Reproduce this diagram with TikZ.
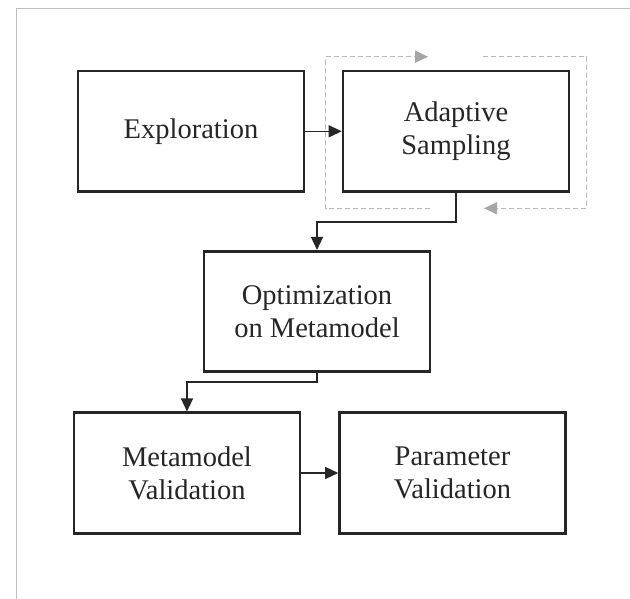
\documentclass[tikz,border=0pt]{standalone}
\usepackage{fontspec}
\setmainfont{Liberation Serif}
\usetikzlibrary{arrows.meta}
\begin{document}
\begin{tikzpicture}[x=1pt,y=-1pt,
  box/.style={draw=black!85, line width=2.6pt, minimum width=226pt, minimum height=120.5pt,
    inner sep=0pt, align=center, font=\fontsize{28.5}{33}\selectfont, text=black!85},
  conn/.style={draw=black!85, line width=1.4pt, -{Triangle[length=13pt,width=12pt]}},
  loopline/.style={draw=black!28, line width=1.3pt, dash pattern=on 5pt off 3pt,
    -{Triangle[length=13pt,width=12pt,color=black!35]}},
  frame/.style={draw=black!25, line width=1.2pt}
]
\useasboundingbox (0,0) rectangle (630,599);
\draw[frame] (16.5,599) -- (16.5,8.5) -- (630,8.5);

\node[box] (expl) at (191,131.3) {Exploration};
\node[box] (adapt) at (456,131.3) {Adaptive\\Sampling};
\node[box] (opt) at (317,311.5) {Optimization\\on Metamodel};
\node[box] (meta) at (187,473) {Metamodel\\Validation};
\node[box] (param) at (452.5,473) {Parameter\\Validation};

\draw[conn] (expl) -- (adapt);
\draw[conn] (adapt.south) -- ++(0,29) -| (opt.north);
\draw[conn] (opt.south) -- ++(0,9) -| (meta.north);
\draw[conn] (meta) -- (param);

\coordinate (l1s) at (430,208.3);
\coordinate (l1e) at (428,56.7);
\coordinate (l2s) at (482.7,56.7);
\coordinate (l2e) at (484,208.3);
\draw[loopline] (l1s) -- (325.7,208.3) -- (325.7,56.7) -- (l1e);
\draw[loopline] (l2s) -- (586.7,56.7) -- (586.7,208.3) -- (l2e);
\end{tikzpicture}
\end{document}
